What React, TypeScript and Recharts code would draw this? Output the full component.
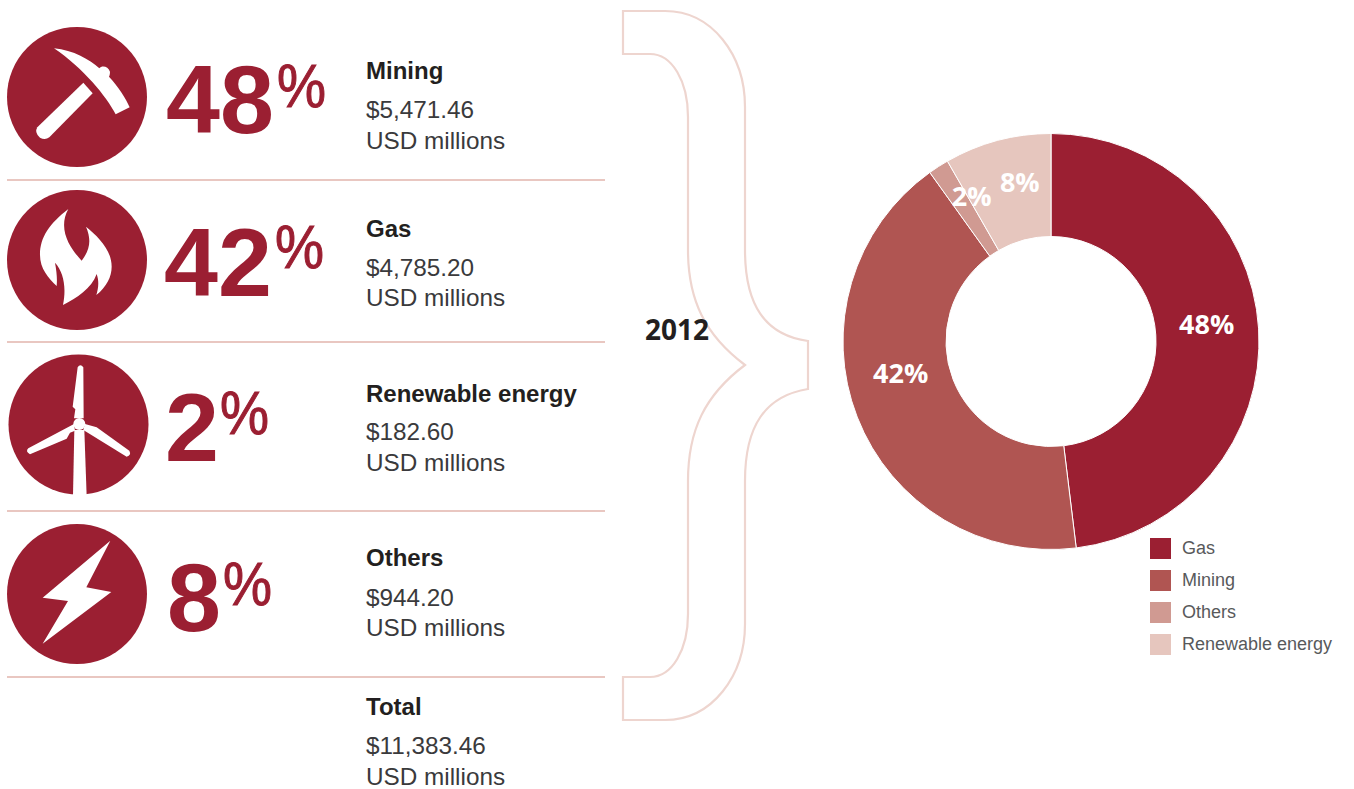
import { PieChart, Pie, Cell, Label, Legend } from 'recharts';

const categories = ['Mining', 'Gas', 'Renewable energy', 'Others'];
const amounts = [5471.46, 4785.2, 182.6, 944.2];
const totalAmount = 11383.46;
const COLORS = ['#9b1f32', '#b05552', '#d09a92', '#e6c6be'];

const RED = '#9b1f32';
const RULE = '#e2b5ad';
const INK = '#231f20';
const SANS = '"Liberation Sans", Arial, sans-serif';

const data = categories.map((name, i) => ({ name, value: amounts[i] }));

const money = (v: number) =>
  '$' + v.toLocaleString('en-US', { minimumFractionDigits: 2 });
const pct = (v: number) => Math.round((v / totalAmount) * 100);

// slice labels sit off the ring's middle in the original
const labelNudge = [
  [0, -9],
  [-5, -26],
  [5, -15],
  [9, -9],
];

// one row of the left hand table
const rows = [
  { circle: [77, 97], num: [166, 133], sign: [277, 107], rule: 180, text: [79, 118, 149] },
  { circle: [77, 260], num: [164, 296], sign: [275, 268], rule: 342, text: [237, 276, 306] },
  { circle: [78.5, 424.5], num: [165, 461], sign: [220, 434], rule: 511, text: [402, 440, 471] },
  { circle: [77, 594], num: [167, 631], sign: [223, 605], rule: 677, text: [566, 606, 636] },
];

function Icons() {
  return (
    <>
      {rows.map((r, i) => (
        <circle key={i} cx={r.circle[0]} cy={r.circle[1]} r={70} fill={RED} />
      ))}
      {/* pickaxe + flame, traced at 3x */}
      <g transform="translate(0,10) scale(0.3333)" fill="#fff">
        <path d="M162,115 C220,120 270,150 298,175 C305,165 325,168 330,185 C330,195 328,198 327,200 C355,230 378,265 389,292 L347,313 C320,260 250,175 162,115 Z" />
        <path d="M250,218 L278,250 L148,382 Q135,392 120,383 Q102,368 112,352 Z" />
        <path d="M205,597 C150,640 120,680 120,735 C120,775 145,805 170,828 C172,805 170,785 165,758 C190,785 200,830 189,885 C230,865 275,835 290,792 C298,815 295,835 289,855 C320,830 335,800 335,770 C335,720 295,680 258,650 C275,690 270,720 245,752 C215,720 170,660 205,597 Z" />
      </g>
      {/* turbine + bolt */}
      <g transform="translate(0,340) scale(0.3333)" fill="#fff">
        <path d="M223,270 L219,468 L260,468 L253,270 Z" />
        <path d="M233,82 Q241,70 250,82 L251,235 L222,235 L226,208 L218,200 Z" />
        <path d="M222,252 L85,325 Q75,335 90,343 L200,296 L210,278 L225,272 Z" />
        <path d="M255,252 L290,262 L388,332 Q395,345 380,350 L250,270 Z" />
        <circle cx={238} cy={252} r={18} />
        <path d="M331,602 L128,773 L204,783 L128,911 L334,756 L259,742 Z" />
      </g>
    </>
  );
}

function LeftPanel() {
  return (
    <svg
      width={1354}
      height={789}
      style={{ position: 'absolute', left: 0, top: 0 }}
    >
      <Icons />
      {rows.map((r, i) => (
        <g key={i}>
          <line x1={7} x2={605} y1={r.rule} y2={r.rule} stroke={RULE} strokeWidth={1.5} />
          <text x={r.num[0]} y={r.num[1]} fill={RED} fontFamily={SANS} fontWeight={700} fontSize={97}>
            {pct(amounts[i])}
          </text>
          <text x={r.sign[0]} y={r.sign[1]} fill={RED} fontFamily={SANS} fontSize={62} stroke={RED} strokeWidth={1} textLength={49} lengthAdjust="spacingAndGlyphs">
            %
          </text>
          <text x={366} y={r.text[0]} fill={INK} fontFamily={SANS} fontWeight={700} fontSize={24}>
            {categories[i]}
          </text>
          <text x={366} y={r.text[1]} fill="#3a3a3c" fontFamily={SANS} fontSize={24.3}>
            {money(amounts[i])}
          </text>
          <text x={366} y={r.text[2]} fill="#3a3a3c" fontFamily={SANS} fontSize={24.3}>
            USD millions
          </text>
        </g>
      ))}
      <text x={366} y={715} fill={INK} fontFamily={SANS} fontWeight={700} fontSize={24}>
        Total
      </text>
      <text x={366} y={754} fill="#3a3a3c" fontFamily={SANS} fontSize={24.3}>
        {money(totalAmount)}
      </text>
      <text x={366} y={785} fill="#3a3a3c" fontFamily={SANS} fontSize={24.3}>
        USD millions
      </text>
      <path
        d="M623,11 H665 C712,11 745,55 745,107 V250 C745,305 765,335 808,341 V389 C765,396 745,426 745,481 V624 C745,676 712,720 665,720 H623 V677 H650 C672,677 688,650 688,614 V481 C688,430 705,395 745,365 C705,335 688,300 688,250 V117 C688,81 672,54 650,54 H623 Z"
        fill="none"
        stroke="#eed5cf"
        strokeWidth={2.2}
      />
    </svg>
  );
}

const RADIAN = Math.PI / 180;

function sliceLabel(props: any) {
  const { cx, cy, midAngle, percent, index } = props;
  const r = 156;
  const x = cx + r * Math.cos(-midAngle * RADIAN) + labelNudge[index][0];
  const y = cy + r * Math.sin(-midAngle * RADIAN) + labelNudge[index][1];
  return (
    <text
      x={x}
      y={y}
      fill="#fff"
      textAnchor="middle"
      dominantBaseline="central"
      fontFamily='"Open Sans", sans-serif'
      fontWeight={700}
      fontSize={27}
    >
      {Math.round(percent * 100)}%
    </text>
  );
}

function LegendBox({ payload }: any) {
  return (
    <div>
      {(payload || []).map((item: any, i: number) => (
        <div
          key={i}
          style={{ position: 'relative', height: 32, whiteSpace: 'nowrap' }}
        >
          <span
            style={{
              position: 'absolute',
              left: 0,
              top: 0,
              width: 21,
              height: 21,
              background: COLORS[i],
            }}
          />
          <span
            style={{
              position: 'absolute',
              left: 32,
              top: -1,
              lineHeight: '23px',
              fontFamily: SANS,
              fontSize: 18,
              color: '#58595b',
            }}
          >
            {item.value}
          </span>
        </div>
      ))}
    </div>
  );
}

export default function App() {
  return (
    <div
      style={{
        position: 'absolute',
        left: 0,
        top: 0,
        width: 1354,
        height: 789,
        overflow: 'hidden',
        background: '#fff',
      }}
    >
      <LeftPanel />
      <div style={{ position: 'absolute', left: 0, top: 0 }}>
        <PieChart
          width={1354}
          height={789}
          margin={{ top: 0, right: 0, bottom: 0, left: 0 }}
        >
          <Pie
            data={data}
            dataKey="value"
            nameKey="name"
            cx={1051}
            cy={341.5}
            innerRadius={105}
            outerRadius={208}
            startAngle={90}
            endAngle={-270}
            stroke="#fff"
            strokeWidth={1}
            label={sliceLabel}
            labelLine={false}
            isAnimationActive={false}
          >
            {data.map((_, index) => (
              <Cell key={index} fill={COLORS[index]} />
            ))}
            <Label
              value="2012"
              position="center"
              fill={INK}
              fontFamily='"Open Sans", sans-serif'
              fontWeight={700}
              fontSize={28}
            />
          </Pie>
          <Legend
            content={LegendBox}
            wrapperStyle={{ position: 'absolute', left: 1150, top: 538, width: 200, bottom: 'auto' }}
          />
        </PieChart>
      </div>
    </div>
  );
}
